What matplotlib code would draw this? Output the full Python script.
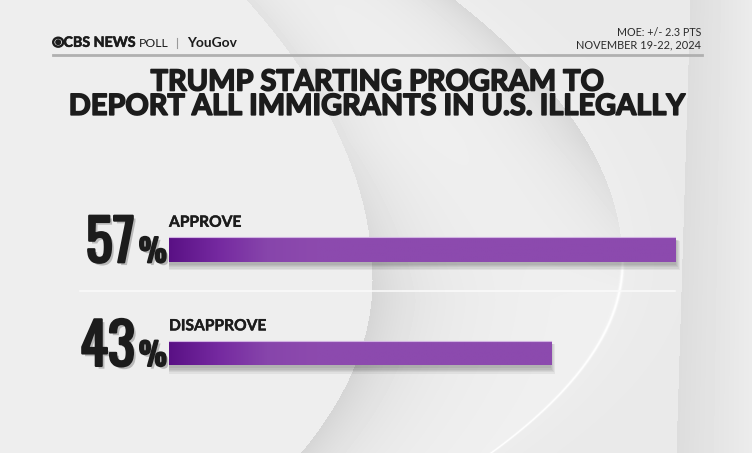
import numpy as np
import matplotlib.pyplot as plt
from matplotlib.colors import LinearSegmentedColormap
from matplotlib.patches import Ellipse
from matplotlib.textpath import TextPath
from matplotlib.font_manager import FontProperties
import matplotlib.patheffects as pe

# data
categories = ['APPROVE', 'DISAPPROVE']
values = [57, 43]
title_lines = ['TRUMP STARTING PROGRAM TO', 'DEPORT ALL IMMIGRANTS IN U.S. ILLEGALLY']
moe_text = 'MOE: +/- 2.3 PTS'
date_text = 'NOVEMBER 19-22, 2024'

W, H = 752, 453
dark = '#1c1c1c'


def fit(s, prop, h=None, w=None):
    # font size in pt giving the glyphs this height or width in pixels (dpi 100)
    ext = TextPath((0, 0), s, size=72, prop=prop).get_extents()
    return 51.84 * (w / ext.width if w is not None else h / ext.height)


bold_fp = FontProperties(family='Lato', weight='bold')
reg_fp = FontProperties(family='Lato', weight='normal')
num_fp = FontProperties(family='Oswald', weight='normal')

fig = plt.figure(figsize=(W / 100, H / 100), dpi=100)

# background
bg_ax = fig.add_axes([0, 0, 1, 1])
bg_ax.set_xlim(0, W)
bg_ax.set_ylim(H, 0)
bg_ax.axis('off')

yy, xx = np.mgrid[0:H, 0:W].astype(float)
c1 = np.where(yy < 280, 372 - 0.0016 * (yy - 280) ** 2, 372 - 0.0024 * (yy - 280) ** 2)
c2 = np.where(yy < 262, 622 - 0.00243 * (yy - 262) ** 2, 622 - 0.00362 * (yy - 262) ** 2)
edge = 690 - 14 * yy / H
d1 = xx - c1
d2 = c2 - xx
bg = np.full((H, W), 0.93)
top = np.clip((300 - yy) / 160, 0, 1)
mid = (d1 > 0) & (d2 > 0)
shade = (0.945 - 0.06 * np.exp(-d1 / 40) - 0.10 * np.exp(-d2 / 50) * top
         - 0.05 * np.exp(-d1 / 90) * (1 - top))
bg[mid] = shade[mid]
rc = (d2 <= 0) & (xx < edge)
bg[rc] = (0.915 + 0.015 * np.exp(d2 / 40))[rc]
glow = np.exp(-(d2 / 1.6) ** 2) * np.clip((yy - 235) / 40, 0, 1)
bg = bg + (0.995 - bg) * glow
rd = xx >= edge
bg[rd] = (0.865 + 0.06 * (xx - edge) / (W - edge))[rd]
bg_ax.imshow(bg, cmap='gray', vmin=0, vmax=1, extent=[0, W, H, 0], aspect='auto',
             interpolation='bilinear')

# header
bg_ax.add_patch(Ellipse((58.2, 42.2), 10, 9, fill=False, lw=1.7, color=dark))
bg_ax.add_patch(Ellipse((58.2, 42.2), 4.6, 4.6, color=dark))
bg_ax.text(63.5, 46.8, 'CBS NEWS', fontproperties=bold_fp,
           fontsize=fit('CBS NEWS', bold_fp, w=71), color=dark, va='baseline',
           path_effects=[pe.Stroke(linewidth=0.4, foreground=dark), pe.Normal()])
bg_ax.text(139, 46.8, 'POLL', fontproperties=reg_fp, fontsize=fit('POLL', reg_fp, h=9),
           color=dark, va='baseline')
bg_ax.plot([177, 177], [37.5, 47.5], color='#9a9a9a', lw=0.8)
bg_ax.text(187, 46.8, 'YouGov', fontproperties=bold_fp, fontsize=fit('YouGov', bold_fp, w=50),
           color=dark, va='baseline')

bg_ax.text(701, 36, moe_text, fontproperties=reg_fp, fontsize=fit(moe_text, reg_fp, w=83),
           color='#2a2a2a', ha='right', va='baseline')
bg_ax.text(701, 48.3, date_text, fontproperties=reg_fp, fontsize=fit(date_text, reg_fp, w=123),
           color='#2a2a2a', ha='right', va='baseline')
bg_ax.plot([53, 702], [55, 55], color='#b0b0b0', lw=2)

# title
tsize = 0.7 * fit(title_lines[1], bold_fp, w=645) + 0.3 * fit('H', bold_fp, h=18.5)
title_fx = [pe.Stroke(linewidth=1.2, foreground=dark), pe.Normal()]
for i, line in enumerate(title_lines):
    bg_ax.text(377.5, 90.5 + 24.3 * i, line, fontproperties=bold_fp, fontsize=tsize, color=dark,
               ha='center', va='baseline', path_effects=title_fx)

# bars
bar_ax = fig.add_axes([168.5 / W, 1 - 404.7 / H, 507 / W, 207.2 / H])
bar_ax.set_xlim(0, max(values))
bar_ax.set_ylim(len(values) - 0.5, -0.5)
bar_ax.axis('off')
pos = np.arange(len(values))
bh = 0.2375

for k in range(5):
    bar_ax.barh(pos + 0.03 + 0.007 * k, [x + 0.12 * k for x in values], height=bh + 0.012 * k,
                color='black', alpha=0.055, lw=0, clip_on=False)

bars = bar_ax.barh(pos, values, height=bh, color='#8a48ad', lw=0)
cmap = LinearSegmentedColormap.from_list('purp', ['#5a1185', '#7529a0', '#8745ab', '#8d4aae', '#8c4aae'])
grad = np.clip(np.linspace(0, 1, 400).reshape(1, -1) * 2.6, 0, 1)
for bar in bars:
    y0 = bar.get_y()
    im = bar_ax.imshow(grad, cmap=cmap, extent=[0, max(values), y0 + bh, y0], aspect='auto',
                       interpolation='bilinear', zorder=3)
    im.set_clip_path(bar)
    bar_ax.plot([0, bar.get_width()], [y0, y0], color='#d2b3e3', lw=0.8, zorder=4)

# divider
bg_ax.plot([80, 675], [291, 291], color='#fbfbfb', lw=1.1, zorder=2)

# labels and percentages
heavy = [pe.withSimplePatchShadow(offset=(2, -2), shadow_rgbFace='#000000', alpha=0.22),
         pe.Stroke(linewidth=1.6, foreground=dark), pe.Normal()]
nsize = fit('57', num_fp, h=47)
psize = fit('%', num_fp, h=25.5)
lsize = fit('APPROVE', bold_fp, h=11.5)
for i, (cat, val) in enumerate(zip(categories, values)):
    base = 262.3 + 103.6 * i
    bg_ax.text(169, base - 35.5, cat, fontproperties=bold_fp, fontsize=lsize, color=dark,
               va='baseline', zorder=5,
               path_effects=[pe.Stroke(linewidth=0.3, foreground=dark), pe.Normal()])
    bg_ax.text(135, base, str(val), fontproperties=num_fp, fontsize=nsize, color=dark,
               ha='right', va='baseline', path_effects=heavy, zorder=5)
    bg_ax.text(139, base, '%', fontproperties=num_fp, fontsize=psize, color=dark,
               ha='left', va='baseline', path_effects=heavy, zorder=5)

fig.savefig('out.png', dpi=100)
